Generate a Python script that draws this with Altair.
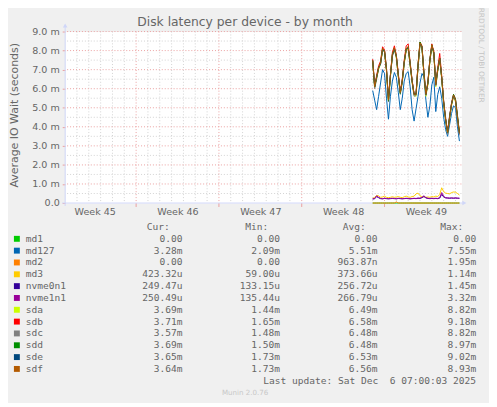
import altair as alt
import pandas as pd

# ---------------- data ----------------
series_names = ["md1", "md127", "md2", "md3", "nvme0n1", "nvme1n1",
                "sda", "sdb", "sdc", "sdd", "sde", "sdf"]
series_colors = ["#00CC00", "#0066B3", "#FF8000", "#FFCC00", "#330099", "#990099",
                 "#CCFF00", "#FF0000", "#808080", "#008F00", "#00487D", "#B35A00"]

# one sample every 4 hours from 2025-11-30 00:00 UTC (values in milliseconds)
sample_start = "2025-11-30T00:00:00Z"
sample_count = 45

md1 = [0, 0, 0, 0, 0, 0, 0, 0, 0, 0, 0, 0, 0, 0, 0, 0, 0, 0, 0, 0, 0, 0, 0,
       0, 0, 0, 0, 0, 0, 0, 0, 0, 0, 0, 0, 0, 0, 0, 0, 0, 0, 0, 0, 0, 0]
md127 = [5.9, 5.4, 4.9, 5.6, 6.3, 7.0, 6.8, 5.5, 4.4, 5.6, 6.4, 6.85, 6.6, 5.8, 4.9,
         5.5, 6.4, 6.8, 6.9, 6.1, 4.9, 4.3, 4.95, 5.6, 6.3, 6.8, 6.6, 5.4, 4.5, 5.1,
         6.2, 6.6, 4.8, 5.7, 6.1, 5.5, 4.5, 3.85, 3.5, 4.1, 4.7, 5.1, 5.0, 4.0, 3.25]
md2 = [0, 0, 0, 0, 0, 0, 0, 0, 0, 0, 0, 0, 0.06, 0, 0, 0, 0, 0, 0, 0, 0, 0, 0,
       0, 0, 0, 0, 0, 0, 0, 0, 0, 0, 0, 0, 0, 0, 0, 0, 0, 0, 0, 0, 0, 0]
md3 = [0.25, 0.3, 0.4, 0.38, 0.3, 0.32, 0.36, 0.3, 0.28, 0.3, 0.33, 0.3, 0.32, 0.34, 0.3,
       0.28, 0.33, 0.36, 0.32, 0.3, 0.34, 0.36, 0.48, 0.52, 0.38, 0.32, 0.34, 0.3, 0.32, 0.3,
       0.34, 0.32, 0.36, 0.34, 0.45, 0.8, 0.6, 0.52, 0.5, 0.48, 0.55, 0.58, 0.57, 0.5, 0.42]
nvme0n1 = [0.21, 0.23, 0.33, 0.28, 0.23, 0.22, 0.24, 0.23, 0.22, 0.23, 0.24, 0.23, 0.22, 0.24, 0.23,
           0.22, 0.23, 0.24, 0.23, 0.22, 0.23, 0.24, 0.23, 0.25, 0.24, 0.28, 0.34, 0.27, 0.24, 0.23,
           0.24, 0.23, 0.24, 0.23, 0.26, 0.45, 0.32, 0.27, 0.26, 0.25, 0.26, 0.25, 0.26, 0.25, 0.25]
nvme1n1 = [0.22, 0.24, 0.38, 0.3, 0.24, 0.23, 0.25, 0.24, 0.23, 0.24, 0.25, 0.24, 0.23, 0.25, 0.24,
           0.23, 0.24, 0.25, 0.24, 0.23, 0.24, 0.25, 0.24, 0.26, 0.25, 0.3, 0.38, 0.28, 0.25, 0.24,
           0.25, 0.24, 0.25, 0.24, 0.28, 0.55, 0.35, 0.28, 0.27, 0.26, 0.27, 0.26, 0.27, 0.26, 0.25]
sda = [7.45, 6.05, 6.55, 7.0, 7.3, 8.0, 7.95, 6.9, 5.35, 6.6, 7.75, 8.1, 7.6, 6.6, 5.75,
       6.35, 7.3, 8.0, 8.1, 7.2, 6.3, 5.65, 5.6, 7.1, 8.3, 8.1, 6.7, 5.6, 6.2, 7.4,
       8.2, 7.8, 6.1, 6.9, 7.5, 6.5, 5.2, 4.35, 3.65, 4.45, 5.1, 5.6, 5.3, 4.45, 3.7]
sdb = [7.55, 6.15, 6.7, 7.2, 7.45, 8.2, 8.05, 7.05, 5.5, 6.75, 7.9, 8.25, 7.75, 6.8, 5.85,
       6.5, 7.5, 8.25, 8.35, 7.4, 6.45, 5.75, 5.75, 7.3, 8.45, 8.25, 6.85, 5.75, 6.35, 7.55,
       8.35, 7.95, 6.3, 7.1, 7.85, 6.7, 5.35, 4.45, 3.75, 4.55, 5.25, 5.7, 5.45, 4.55, 3.7]
sdc = [7.4, 6.0, 6.5, 7.05, 7.3, 8.05, 7.9, 6.95, 5.3, 6.65, 7.7, 8.05, 7.65, 6.65, 5.7,
       6.3, 7.35, 8.05, 8.15, 7.25, 6.35, 5.6, 5.65, 7.15, 8.35, 8.15, 6.75, 5.65, 6.25, 7.45,
       8.25, 7.85, 6.15, 6.95, 7.55, 6.55, 5.25, 4.3, 3.6, 4.4, 5.15, 5.6, 5.35, 4.4, 3.55]
sdd = [7.45, 6.1, 6.6, 7.1, 7.35, 8.1, 7.95, 7.0, 5.35, 6.7, 7.8, 8.1, 7.7, 6.7, 5.75,
       6.4, 7.4, 8.1, 8.2, 7.3, 6.4, 5.7, 5.7, 7.25, 8.45, 8.2, 6.8, 5.7, 6.3, 7.5,
       8.3, 7.9, 6.25, 7.0, 7.6, 6.6, 5.3, 4.4, 3.7, 4.5, 5.2, 5.7, 5.45, 4.6, 3.7]
sde = [7.5, 6.1, 6.6, 7.1, 7.3, 8.05, 8.0, 7.0, 5.4, 6.7, 7.75, 8.1, 7.7, 6.7, 5.8,
       6.4, 7.4, 8.05, 8.15, 7.3, 6.4, 5.7, 5.7, 7.2, 8.35, 8.2, 6.8, 5.7, 6.3, 7.5,
       8.25, 7.9, 6.2, 7.0, 7.6, 6.6, 5.3, 4.4, 3.7, 4.5, 5.2, 5.65, 5.4, 4.5, 3.65]
sdf = [7.5, 6.1, 6.6, 7.1, 7.35, 8.1, 8.0, 7.0, 5.4, 6.7, 7.8, 8.15, 7.7, 6.7, 5.8,
       6.4, 7.4, 8.1, 8.2, 7.3, 6.4, 5.7, 5.7, 7.2, 8.4, 8.2, 6.8, 5.7, 6.3, 7.5,
       8.3, 7.9, 6.2, 7.0, 7.6, 6.6, 5.3, 4.4, 3.7, 4.5, 5.2, 5.65, 5.4, 4.5, 3.65]
series_values = [md1, md127, md2, md3, nvme0n1, nvme1n1, sda, sdb, sdc, sdd, sde, sdf]

# legend table
cur_vals = ["0.00\u00a0", "3.28m", "0.00\u00a0", "423.32u", "249.47u", "250.49u",
            "3.69m", "3.71m", "3.57m", "3.69m", "3.65m", "3.64m"]
min_vals = ["0.00\u00a0", "2.09m", "0.00\u00a0", "59.00u", "133.15u", "135.44u",
            "1.44m", "1.65m", "1.48m", "1.50m", "1.73m", "1.73m"]
avg_vals = ["0.00\u00a0", "5.51m", "963.87n", "373.66u", "256.72u", "266.79u",
            "6.49m", "6.58m", "6.48m", "6.48m", "6.53m", "6.56m"]
max_vals = ["0.00\u00a0", "7.55m", "1.95m", "1.14m", "1.45m", "3.32m",
            "8.82m", "9.18m", "8.82m", "8.97m", "9.02m", "8.93m"]

# axes
x_domain = ["2025-11-04T00:00:00Z", "2025-12-07T12:00:00Z"]
week_starts = ["2025-11-10T00:00:00Z", "2025-11-17T00:00:00Z",
               "2025-11-24T00:00:00Z", "2025-12-01T00:00:00Z"]
week_mids = ["2025-11-06T12:00:00Z", "2025-11-13T12:00:00Z", "2025-11-20T12:00:00Z",
             "2025-11-27T12:00:00Z", "2025-12-04T12:00:00Z"]
y_major = [1, 2, 3, 4, 5, 6, 7, 8, 9]
y_minor = [0.5, 1.5, 2.5, 3.5, 4.5, 5.5, 6.5, 7.5, 8.5]
y_ticks = [0, 1, 2, 3, 4, 5, 6, 7, 8, 9]

title_text = "Disk latency per device - by month"
y_title = "Average IO Wait (seconds)"
last_update = "Last update: Sat Dec \u00a06 07:00:03 2025"


def ms(s):
    return int(pd.Timestamp(s).value // 10**6)


# ---------------- tables ----------------
times = [ms(t) for t in pd.date_range(sample_start, periods=sample_count, freq="4h")]
rows = []
for name, vals in zip(series_names, series_values):
    for t, v in zip(times, vals):
        rows.append({"t": t, "v": v, "s": name})
df = pd.DataFrame(rows)

week_set = set(ms(w) for w in week_starts)
day_lines = [ms(d) for d in pd.date_range("2025-11-05", "2025-12-07", freq="D", tz="UTC")]
df_day = pd.DataFrame({"t": [d for d in day_lines if d not in week_set]})
df_week = pd.DataFrame({"t": [ms(w) for w in week_starts]})
df_ymaj = pd.DataFrame({"v": y_major})
df_ymin = pd.DataFrame({"v": y_minor})
one = pd.DataFrame({"k": [0]})

df_leg = pd.DataFrame({
    "name": series_names, "color": series_colors,
    "cur": cur_vals, "mn": min_vals, "avg": avg_vals, "mx": max_vals,
    "row": list(range(len(series_names))),
})

# ---------------- styling ----------------
FONT = "DejaVu Sans"
MONO = "DejaVu Sans Mono"
TXT = "#666666"
AXIS_C = "#CFD6F8"
MGRID = "#EBA0A0"
GRID = "#D2D2D2"

xs = alt.Scale(type="utc", domain=[ms(d) for d in x_domain], nice=False)
x_axis = alt.Axis(values=[ms(w) for w in week_mids],
                  labelExpr="'Week ' + utcFormat(datum.value, '%V')",
                  title=None, grid=False, ticks=False, tickSize=0, domain=False,
                  labelFont=FONT, labelFontSize=9.7, labelColor=TXT,
                  labelPadding=9, labelBaseline="middle", labelFlush=False,
                  labelOverlap=False)
ys = alt.Scale(domain=[0, 9], nice=False, zero=True)
y_axis = alt.Axis(values=y_ticks,
                  labelExpr="datum.value == 0 ? '0.0' : format(datum.value, '.1f') + ' m'",
                  title=None, grid=False, domain=False, ticks=True, tickSize=3,
                  tickColor=MGRID, labelPadding=3, labelFont=FONT,
                  labelFontSize=9.7, labelColor=TXT, labelOverlap=False)

X = alt.X("t:T", scale=xs, axis=x_axis)
Y = alt.Y("v:Q", scale=ys, axis=y_axis)

x_minor = alt.Chart(df_day).mark_rule(color=GRID, strokeDash=[1, 2], strokeWidth=1).encode(x=X)
y_minor_l = alt.Chart(df_ymin).mark_rule(color=GRID, strokeDash=[1, 2], strokeWidth=1).encode(y=Y)
x_major = alt.Chart(df_week).mark_rule(color=MGRID, strokeDash=[1, 2], strokeWidth=1).encode(x=X)
y_major_l = alt.Chart(df_ymaj).mark_rule(color=MGRID, strokeDash=[1, 2], strokeWidth=1).encode(y=Y)
week_ticks = alt.Chart(df_week).mark_rule(color=MGRID, strokeWidth=1).encode(
    x=X, y=alt.value(174), y2=alt.value(178))

y_axis_line = alt.Chart(one).mark_rule(color=AXIS_C, strokeWidth=1).encode(
    x=alt.value(0), y=alt.value(-5), y2=alt.value(177))
x_axis_line = alt.Chart(one).mark_rule(color=AXIS_C, strokeWidth=1).encode(
    x=alt.value(-3), x2=alt.value(404), y=alt.value(174))
arrow_up = alt.Chart(one).mark_point(shape="triangle-up", filled=True, size=22,
                                     color=AXIS_C, opacity=1).encode(
    x=alt.value(0), y=alt.value(-6))
arrow_right = alt.Chart(one).mark_point(shape="triangle-right", filled=True, size=22,
                                        color=AXIS_C, opacity=1).encode(
    x=alt.value(405), y=alt.value(174))

lines = alt.Chart(df).mark_line(strokeWidth=1).encode(
    x=X, y=Y,
    color=alt.Color("s:N", scale=alt.Scale(domain=series_names, range=series_colors),
                    legend=None),
)

# ---------------- texts ----------------
title = alt.Chart(one).mark_text(text=title_text, font=FONT, fontSize=12.5, color=TXT,
                                 align="center", baseline="alphabetic").encode(
    x=alt.value(182.5), y=alt.value(-5.5))
ytitle = alt.Chart(one).mark_text(text=y_title, font=FONT, fontSize=11.1, color=TXT,
                                  align="center", baseline="middle", angle=270).encode(
    x=alt.value(-51), y=alt.value(85))
watermark = alt.Chart(one).mark_text(text="RRDTOOL / TOBI OETIKER", font=FONT, fontSize=7.5,
                                     color="#C4C4C4", align="center", baseline="middle",
                                     angle=90).encode(x=alt.value(421.5), y=alt.value(24))

leg_base = alt.Chart(df_leg).transform_calculate(py="210.3 + 12 * datum.row")
PY = alt.Y("py:Q", scale=None)
squares = leg_base.mark_square(size=36, filled=True, opacity=1).encode(
    x=alt.value(-49), y=PY, color=alt.Color("color:N", scale=None))


def col(field, xpos, align):
    return leg_base.mark_text(font=MONO, fontSize=9.7, color=TXT, align=align,
                              baseline="middle").encode(
        x=alt.value(xpos), y=PY, text=f"{field}:N")


names_t = col("name", -40, "left")
cur_t = col("cur", 119, "right")
min_t = col("mn", 218, "right")
avg_t = col("avg", 317, "right")
max_t = col("mx", 417, "right")


def static(txt, xpos, ypos, align, font=MONO, size=9.7, color=TXT):
    return alt.Chart(one).mark_text(text=txt, font=font, fontSize=size, color=color,
                                    align=align, baseline="middle").encode(
        x=alt.value(xpos), y=alt.value(ypos))


hdr = [static("Cur:", 106, 198.7, "right"), static("Min:", 206, 198.7, "right"),
       static("Avg:", 305, 198.7, "right"), static("Max:", 404, 198.7, "right")]
upd = static(last_update, 416.7, 354.7, "right")
munin = static("Munin 2.0.76", 182.5, 367, "center", font=FONT, size=7.2, color="#C8C8C8")

chart = alt.layer(
    x_minor, y_minor_l, x_major, y_major_l, week_ticks,
    y_axis_line, x_axis_line, arrow_up, arrow_right,
    lines,
    title, ytitle, watermark,
    squares, names_t, cur_t, min_t, avg_t, max_t, *hdr, upd, munin,
).properties(
    width=402, height=174,
    autosize=alt.AutoSizeParams(type="none"),
    padding={"left": 58, "top": 21, "right": 28, "bottom": 200},
    background="#F0F0F0",
).configure_view(fill="white", strokeOpacity=0)

chart.save("out.html", embed_options={"renderer": "svg", "actions": False})
